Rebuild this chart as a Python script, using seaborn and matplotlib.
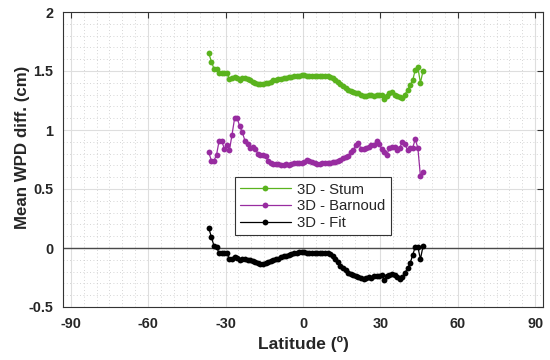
import numpy as np
import pandas as pd
import matplotlib
matplotlib.use("Agg")
import matplotlib.pyplot as plt
from matplotlib.ticker import MultipleLocator
import seaborn as sns

latitude = [-36.5, -35.5, -34.5, -33.5, -32.5, -31.5, -30.5, -29.5, -28.5, -27.5,
            -26.5, -25.5, -24.5, -23.5, -22.5, -21.5, -20.5, -19.5, -18.5, -17.5,
            -16.5, -15.5, -14.5, -13.5, -12.5, -11.5, -10.5, -9.5, -8.5, -7.5,
            -6.5, -5.5, -4.5, -3.5, -2.5, -1.5, -0.5, 0.5, 1.5, 2.5,
            3.5, 4.5, 5.5, 6.5, 7.5, 8.5, 9.5, 10.5, 11.5, 12.5,
            13.5, 14.5, 15.5, 16.5, 17.5, 18.5, 19.5, 20.5, 21.5, 22.5,
            23.5, 24.5, 25.5, 26.5, 27.5, 28.5, 29.5, 30.5, 31.5, 32.5,
            33.5, 34.5, 35.5, 36.5, 37.5, 38.5, 39.5, 40.5, 41.5, 42.5,
            43.5, 44.5, 45.5, 46.5]

stum = [1.65, 1.58, 1.52, 1.52, 1.48, 1.48, 1.48, 1.48, 1.43, 1.44,
        1.45, 1.44, 1.42, 1.44, 1.44, 1.43, 1.42, 1.41, 1.40, 1.39,
        1.39, 1.39, 1.40, 1.40, 1.41, 1.42, 1.42, 1.43, 1.43, 1.44,
        1.44, 1.45, 1.45, 1.46, 1.46, 1.46, 1.465, 1.465, 1.46, 1.46,
        1.46, 1.46, 1.46, 1.46, 1.46, 1.46, 1.46, 1.45, 1.44, 1.42,
        1.41, 1.39, 1.37, 1.36, 1.34, 1.33, 1.32, 1.31, 1.31, 1.30,
        1.29, 1.29, 1.30, 1.30, 1.29, 1.30, 1.30, 1.30, 1.26, 1.29,
        1.31, 1.32, 1.30, 1.29, 1.28, 1.27, 1.30, 1.34, 1.38, 1.42,
        1.51, 1.53, 1.40, 1.50]

barnoud = [0.81, 0.74, 0.74, 0.79, 0.91, 0.91, 0.84, 0.87, 0.83, 0.96,
           1.10, 1.10, 1.03, 0.98, 0.91, 0.88, 0.85, 0.86, 0.84, 0.80,
           0.79, 0.79, 0.78, 0.74, 0.72, 0.71, 0.71, 0.71, 0.70, 0.70,
           0.71, 0.70, 0.71, 0.72, 0.72, 0.72, 0.72, 0.73, 0.745, 0.74,
           0.73, 0.72, 0.715, 0.715, 0.72, 0.72, 0.72, 0.72, 0.73, 0.73,
           0.74, 0.75, 0.76, 0.77, 0.78, 0.81, 0.83, 0.87, 0.89, 0.84,
           0.84, 0.85, 0.86, 0.87, 0.87, 0.91, 0.88, 0.84, 0.81, 0.79,
           0.85, 0.86, 0.86, 0.83, 0.85, 0.90, 0.88, 0.83, 0.85, 0.85,
           0.92, 0.85, 0.61, 0.64]

fit = [0.17, 0.09, 0.02, 0.01, -0.045, -0.045, -0.045, -0.045, -0.095, -0.09,
       -0.08, -0.085, -0.10, -0.09, -0.09, -0.10, -0.10, -0.11, -0.12, -0.13,
       -0.135, -0.135, -0.13, -0.12, -0.11, -0.10, -0.095, -0.09, -0.08, -0.07,
       -0.065, -0.06, -0.05, -0.045, -0.04, -0.035, -0.035, -0.035, -0.04, -0.04,
       -0.04, -0.04, -0.04, -0.04, -0.04, -0.04, -0.045, -0.05, -0.07, -0.09,
       -0.12, -0.15, -0.17, -0.19, -0.21, -0.22, -0.23, -0.24, -0.245, -0.255,
       -0.26, -0.25, -0.245, -0.25, -0.24, -0.235, -0.24, -0.23, -0.27, -0.24,
       -0.225, -0.22, -0.23, -0.245, -0.26, -0.245, -0.21, -0.17, -0.13, -0.06,
       0.01, 0.01, -0.095, 0.015]

series_names = ["3D - Stum", "3D - Barnoud", "3D - Fit"]
series_colors = ["#5ab31e", "#982ca0", "#000000"]
x_ticks = [-90, -60, -30, 0, 30, 60, 90]
y_ticks = [-0.5, 0, 0.5, 1, 1.5, 2]
y_tick_labels = ["-0.5", "0", "0.5", "1", "1.5", "2"]

df = pd.concat([
    pd.DataFrame({"lat": latitude, "val": vals, "series": name})
    for name, vals in zip(series_names, [stum, barnoud, fit])
], ignore_index=True)

sns.set_style("white")
plt.rcParams["font.family"] = ["Liberation Sans", "DejaVu Sans"]

fig = plt.figure(figsize=(5.5, 3.6), dpi=100)
ax = fig.add_axes([63 / 550, 1 - 307 / 360, 480 / 550, 295 / 360])

ax.axhline(0, color="#4a4a4a", lw=1.0, zorder=1)

sns.lineplot(data=df, x="lat", y="val", hue="series", hue_order=series_names,
             palette=series_colors, marker="o", markersize=4.2, markeredgewidth=0,
             linewidth=0.9, sort=False, estimator=None, ax=ax, zorder=3)

ax.set_xlim(-93, 93)
ax.set_ylim(-0.5, 2)
ax.set_xticks(x_ticks)
ax.set_xticklabels([str(t) for t in x_ticks])
ax.set_yticks(y_ticks)
ax.set_yticklabels(y_tick_labels)
ax.xaxis.set_minor_locator(MultipleLocator(5))
ax.yaxis.set_minor_locator(MultipleLocator(0.1))

ax.grid(True, which="major", color="#dedede", lw=0.8, zorder=0)
ax.grid(True, which="minor", color="#c8c8c8", lw=0.6, linestyle=(0, (1, 3)), zorder=0)
ax.set_axisbelow(True)

ax.tick_params(which="major", direction="in", top=True, right=True, length=4,
               width=0.8, color="#333333", labelsize=10.4, pad=7)
ax.tick_params(which="minor", length=0)
for lab in ax.get_xticklabels() + ax.get_yticklabels():
    lab.set_fontweight("bold")
for sp in ax.spines.values():
    sp.set_color("#333333")
    sp.set_linewidth(0.8)

ax.set_xlabel("Latitude (º)", fontsize=12.5, fontweight="bold", labelpad=4)
ax.set_ylabel("Mean WPD diff. (cm)", fontsize=12.2, fontweight="bold")
ax.yaxis.set_label_coords(-0.068, 0.541)

handles, labels = ax.get_legend_handles_labels()
leg = ax.legend(handles, labels, loc="upper left", bbox_to_anchor=(0.358, 0.439),
                borderaxespad=0, fontsize=10.7, handlelength=3.4, handletextpad=0.45,
                labelspacing=0.17, borderpad=0.35, frameon=True, fancybox=False,
                framealpha=1, edgecolor="#333333")
leg.get_frame().set_linewidth(0.8)

fig.savefig("out.png", dpi=100)
